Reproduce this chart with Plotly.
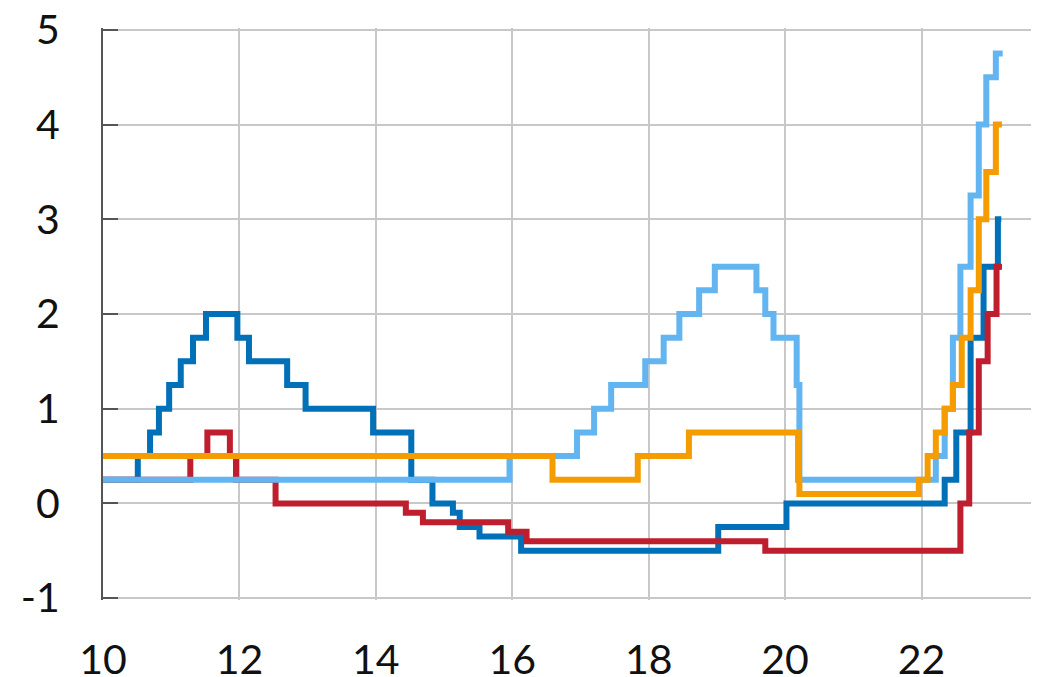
import plotly.graph_objects as go

# Policy rate step changes: decimal year (10 = 2010) and new rate level
dkblue_x = [10.0, 10.51, 10.69, 10.82, 10.97, 11.14, 11.32, 11.51, 11.97, 12.14, 12.70, 12.97,
            13.96, 14.52, 14.83, 15.13, 15.23, 15.52, 16.13, 19.02, 20.02, 22.34, 22.51,
            22.72, 22.91, 23.12, 23.17]
dkblue_y = [0.25, 0.5, 0.75, 1.0, 1.25, 1.5, 1.75, 2.0, 1.75, 1.5, 1.25, 1.0,
            0.75, 0.25, 0.0, -0.1, -0.25, -0.35, -0.5, -0.25, 0.0, 0.25, 0.75,
            1.75, 2.5, 3.0, 3.0]

red_x = [10.0, 11.28, 11.53, 11.86, 11.95, 12.53, 14.44, 14.69, 15.94, 16.21, 19.71,
         22.57, 22.70, 22.84, 22.97, 23.10, 23.18]
red_y = [0.25, 0.5, 0.75, 0.5, 0.25, 0.0, -0.1, -0.2, -0.3, -0.4, -0.5,
         0.0, 0.75, 1.5, 2.0, 2.5, 2.5]

ltblue_x = [10.0, 15.96, 16.95, 17.20, 17.45, 17.95, 18.22, 18.45, 18.74, 18.97, 19.58,
            19.71, 19.83, 20.17, 20.21, 22.21, 22.34, 22.46, 22.57, 22.72, 22.84,
            22.95, 23.09, 23.19]
ltblue_y = [0.25, 0.5, 0.75, 1.0, 1.25, 1.5, 1.75, 2.0, 2.25, 2.5, 2.25,
            2.0, 1.75, 1.25, 0.25, 0.5, 1.0, 1.75, 2.5, 3.25, 4.0,
            4.5, 4.75, 4.75]

orange_x = [10.0, 16.59, 17.84, 18.59, 20.19, 20.21, 21.96, 22.09, 22.21, 22.34, 22.46,
            22.59, 22.72, 22.84, 22.95, 23.09, 23.18]
orange_y = [0.5, 0.25, 0.5, 0.75, 0.25, 0.1, 0.25, 0.5, 0.75, 1.0, 1.25,
            1.75, 2.25, 3.0, 3.5, 4.0, 4.0]

x_ticks = [10, 12, 14, 16, 18, 20, 22]
y_ticks = [-1, 0, 1, 2, 3, 4, 5]

series = [
    (dkblue_x, dkblue_y, "#0070B8"),
    (red_x, red_y, "#BE1E2D"),
    (ltblue_x, ltblue_y, "#62B5F0"),
    (orange_x, orange_y, "#F59C00"),
]

fig = go.Figure()
for xs, ys, col in series:
    fig.add_trace(go.Scatter(x=xs, y=ys, mode="lines", line=dict(color=col, width=6, shape="hv"),
                             showlegend=False, hoverinfo="skip"))

font_family = "Lato, 'Open Sans', sans-serif"
fig.update_layout(
    width=1039, height=677,
    margin=dict(l=95, r=0, t=20, b=85),
    paper_bgcolor="white", plot_bgcolor="white",
    font=dict(family=font_family, size=41, color="#111111"),
    showlegend=False,
)
fig.update_xaxes(
    range=[10, 23.84], tickvals=x_ticks, ticktext=[str(v) for v in x_ticks],
    showgrid=True, gridcolor="#C8C8C8", gridwidth=1.5,
    zeroline=False, showline=False, ticks="", ticklabelstandoff=32,
    automargin=False, ticklabeloverflow="allow",
)
fig.update_yaxes(
    range=[-1.02, 5.02], tickvals=y_ticks, ticktext=[str(v) for v in y_ticks],
    showgrid=True, gridcolor="#C8C8C8", gridwidth=1.5,
    zeroline=False, showline=True, linecolor="#555555", linewidth=2,
    ticks="inside", ticklen=15, tickcolor="#555555", tickwidth=2,
    ticklabelstandoff=33, automargin=False, ticklabeloverflow="allow",
)

fig.write_html("out.html")
